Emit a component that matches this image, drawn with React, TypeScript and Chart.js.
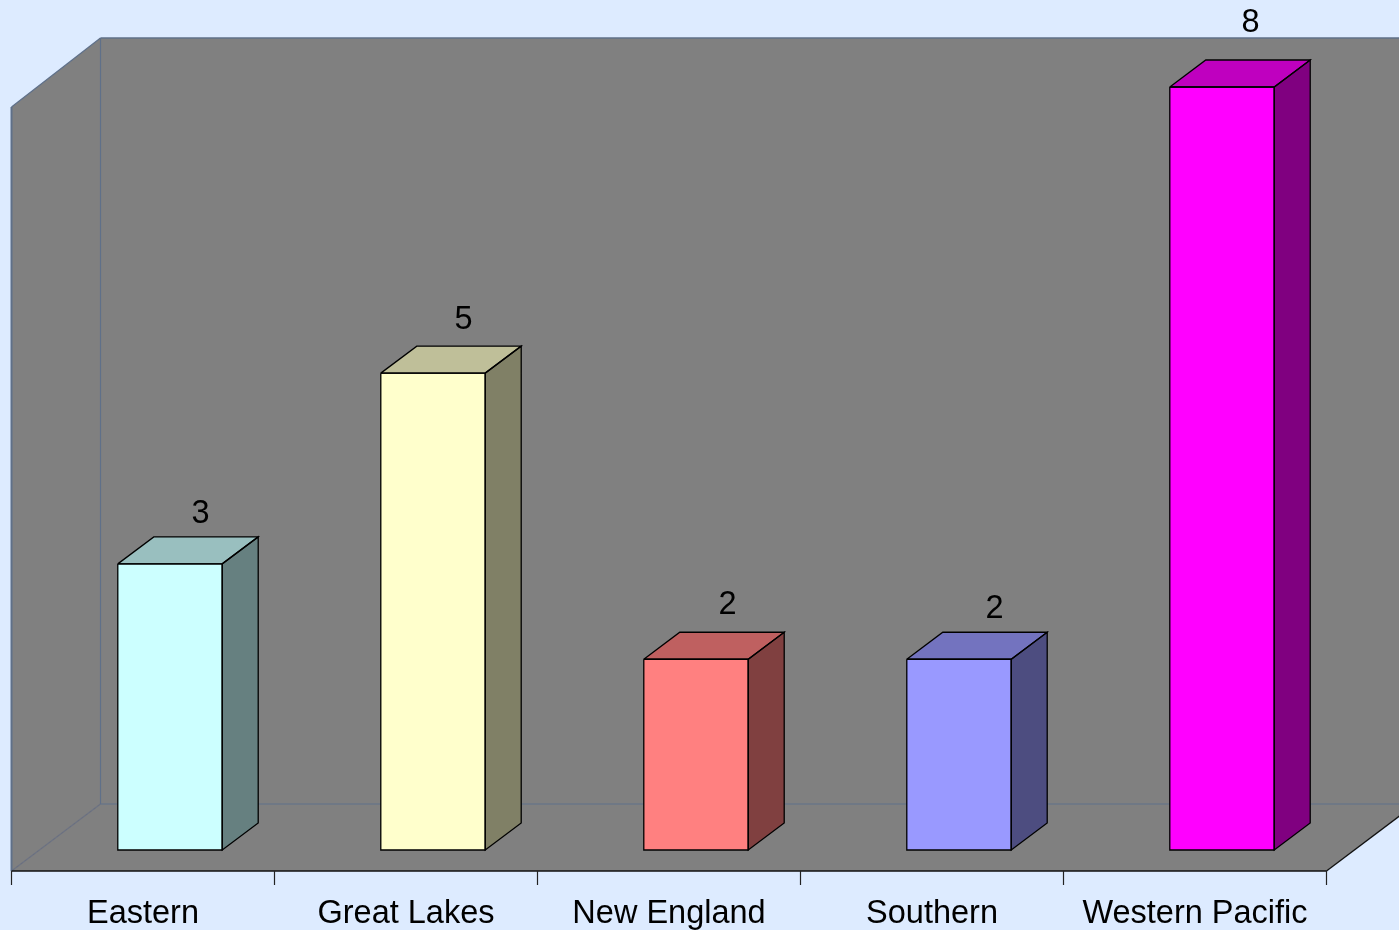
import React, { useEffect, useRef } from "react";
import { Chart, registerables } from "chart.js";

Chart.register(...registerables);

const categories = ["Eastern", "Great Lakes", "New England", "Southern", "Western Pacific"];
const counts = [3, 5, 2, 2, 8];
const frontColors = ["#CCFFFF", "#FFFFCC", "#FF8080", "#9999FF", "#FF00FF"];
const topColors = ["#99BFBF", "#BFBF99", "#BF6060", "#7373BF", "#BF00BF"];
const sideColors = ["#668080", "#808066", "#804040", "#4D4D80", "#800080"];
const valueLabelShiftX = [30.5, 30.5, 31.5, 35.5, 28.5];
const valueLabelShiftY = [24, 27, 28, 24, 38];

const FONT = '"Liberation Sans", Arial, sans-serif';
const BG = "#DDEBFF";
const WALL = "#808080";
const WALL_LINE = "#5F7089";
const BAR_DX = 36;
const BAR_DY = 27;
const FRONT_DX = 27;
const FRONT_DY = 21;
const BACK_DX = 62;
const BACK_DY = 46;

function poly(ctx: CanvasRenderingContext2D, pts: number[][], fill?: string, stroke?: string, lw = 1) {
  ctx.beginPath();
  pts.forEach(([x, y], i) => (i ? ctx.lineTo(x, y) : ctx.moveTo(x, y)));
  if (fill) {
    ctx.closePath();
    ctx.fillStyle = fill;
    ctx.fill();
  }
  if (stroke) {
    ctx.strokeStyle = stroke;
    ctx.lineWidth = lw;
    ctx.stroke();
  }
}

const walls3d = {
  id: "walls3d",
  beforeDatasetsDraw(chart: any) {
    const { ctx, chartArea: a, scales } = chart;
    const l = a.left - FRONT_DX;
    const r = a.right - FRONT_DX;
    const b = a.bottom + FRONT_DY;
    const t = a.top + FRONT_DY - 1;
    const bl = a.left + BACK_DX;
    const br = a.right + BACK_DX;
    const bb = a.bottom - BACK_DY;
    const bt = a.top - BACK_DY - 3;
    ctx.save();
    poly(ctx, [[bl, bt], [br, bt], [br, bb], [bl, bb]], WALL);
    poly(ctx, [[l, t], [bl, bt], [bl, bb], [l, b]], WALL);
    poly(ctx, [[l, b], [bl, bb], [br, bb], [r, b]], WALL);
    poly(ctx, [[bl, bt], [bl, bb], [br, bb]], undefined, WALL_LINE, 1.2);
    poly(ctx, [[bl, bt], [br, bt]], undefined, WALL_LINE, 1.5);
    poly(ctx, [[l, t], [bl, bt]], undefined, WALL_LINE, 1.3);
    poly(ctx, [[l, b], [bl, bb]], undefined, "#6A7080", 1.3);
    poly(ctx, [[l, t], [l, b]], undefined, WALL_LINE, 2);
    poly(ctx, [[r, b], [br, bb]], undefined, "#111111", 1.3);
    poly(ctx, [[l, b], [r, b]], undefined, "#111111", 1.6);
    const x = scales.x;
    const step = (a.right - a.left) / categories.length;
    for (let i = 0; i <= categories.length; i++) {
      const px = Math.floor(x.left + step * i - FRONT_DX - 0.2) + 0.5;
      poly(ctx, [[px, b], [px, b + 14]], undefined, "#222222", 1.2);
    }
    ctx.restore();
  },
};

const bars3d = {
  id: "bars3d",
  afterDatasetsDraw(chart: any) {
    const { ctx } = chart;
    const meta = chart.getDatasetMeta(0);
    ctx.save();
    meta.data.forEach((bar: any, i: number) => {
      const left = bar.x - bar.width / 2;
      const right = bar.x + bar.width / 2;
      const top = bar.y;
      const base = bar.base;
      const topFace = [[left, top], [left + BAR_DX, top - BAR_DY], [right + BAR_DX, top - BAR_DY], [right, top]];
      const sideFace = [[right, top], [right + BAR_DX, top - BAR_DY], [right + BAR_DX, base - BAR_DY], [right, base]];
      poly(ctx, topFace, topColors[i]);
      poly(ctx, sideFace, sideColors[i]);
      poly(ctx, [...topFace, topFace[0]], undefined, "#000000", 1.3);
      poly(ctx, [...sideFace, sideFace[0]], undefined, "#000000", 1.3);
      poly(ctx, [[left, top], [right, top], [right, base], [left, base], [left, top]], undefined, "#000000", 1.3);
      ctx.fillStyle = "#000000";
      ctx.font = `32.5px ${FONT}`;
      ctx.textAlign = "center";
      ctx.textBaseline = "middle";
      ctx.fillText(String(counts[i]), bar.x + valueLabelShiftX[i], top - BAR_DY - valueLabelShiftY[i] + 1);
    });
    ctx.restore();
  },
};

export default function App() {
  const ref = useRef<HTMLCanvasElement | null>(null);
  useEffect(() => {
    if (!ref.current) return;
    const chart = new Chart(ref.current, {
      type: "bar",
      data: {
        labels: categories,
        datasets: [
          {
            data: counts,
            backgroundColor: frontColors,
            borderWidth: 0,
            barPercentage: 0.397,
            categoryPercentage: 1,
          },
        ],
      },
      options: {
        responsive: false,
        animation: false,
        layout: { padding: { left: 38.5, right: 45.5, top: 87, bottom: 0 } },
        plugins: { legend: { display: false }, tooltip: { enabled: false }, title: { display: false } },
        scales: {
          x: {
            grid: { display: false, drawTicks: false },
            border: { display: false },
            afterFit: (s: any) => {
              s.height = 80;
            },
            ticks: {
              color: "#000000",
              font: { family: FONT, size: 32.5 },
              padding: 45,
              labelOffset: -27,
              maxRotation: 0,
              autoSkip: false,
            },
          },
          y: { display: false, min: 0, max: 8 },
        },
      },
      plugins: [walls3d, bars3d],
    } as any);
    return () => chart.destroy();
  }, []);
  return (
    <div style={{ position: "fixed", left: 0, top: 0, width: 1399, height: 930, background: BG, overflow: "hidden" }}>
      <canvas ref={ref} width={1399} height={930} style={{ display: "block", width: 1399, height: 930 }} />
    </div>
  );
}
